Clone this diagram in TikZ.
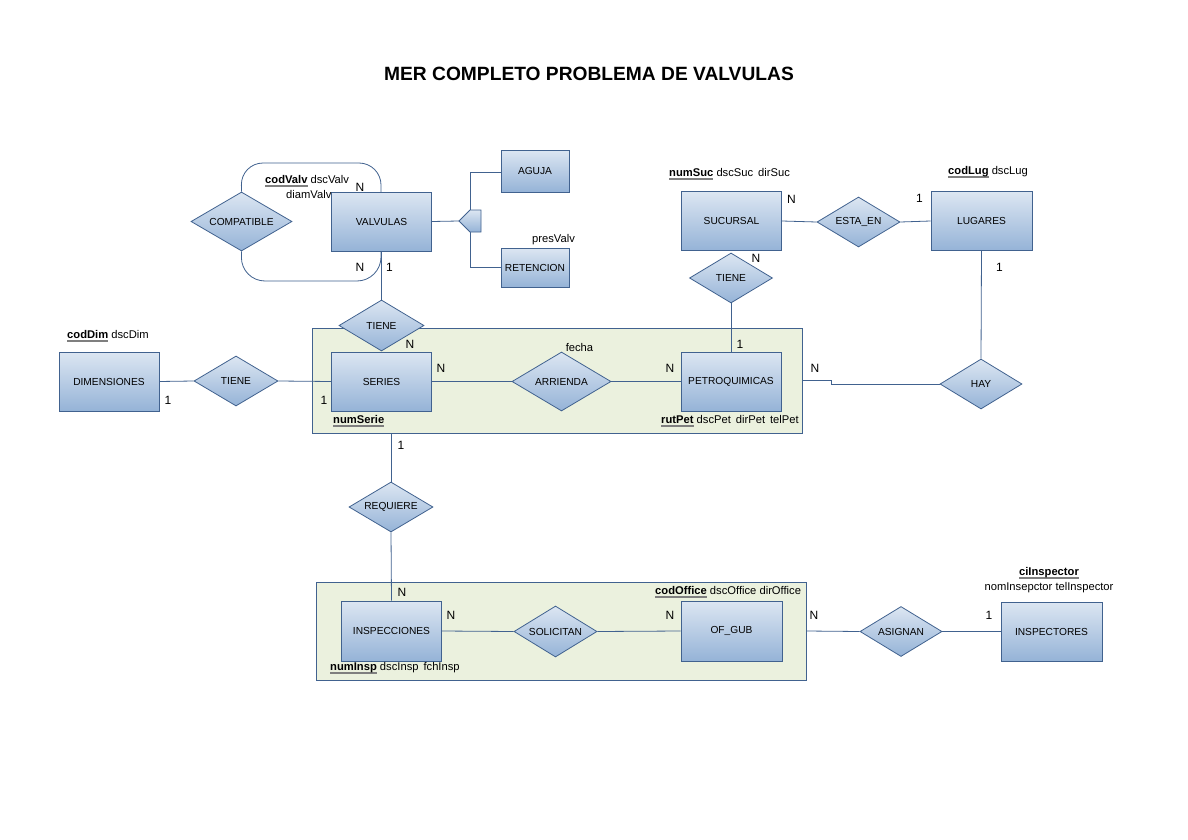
\documentclass[tikz,border=0pt]{standalone}
\usepackage{fontspec}
\setmainfont{Liberation Sans}
\usetikzlibrary{shapes.geometric}
\definecolor{ctop}{HTML}{DCE6F2}
\definecolor{cbot}{HTML}{95B3D7}
\definecolor{edgec}{HTML}{41628F}
\definecolor{bandfill}{HTML}{EBF1DE}
\definecolor{ulc}{HTML}{7F7F7F}
\newsavebox\pkbox
\newcommand\pkey[1]{\sbox\pkbox{\bfseries #1}\rlap{\color{ulc}\rule[-2.9pt]{\wd\pkbox}{1.8pt}}\usebox\pkbox}
\begin{document}
\begin{tikzpicture}[x=1pt,y=1pt,
  ent/.style={draw=edgec, line width=0.8pt, top color=ctop, bottom color=cbot, minimum width=100pt, minimum height=59pt, inner sep=0pt, font=\fontsize{10.2}{12}\selectfont},
  rel/.style={diamond, aspect=1.7, draw=edgec, line width=0.8pt, top color=ctop, bottom color=cbot, inner sep=0pt, font=\fontsize{10.2}{12}\selectfont},
  band/.style={draw=edgec, line width=0.8pt, fill=bandfill, inner sep=0pt},
  attr/.style={inner sep=0pt, font=\fontsize{11.2}{13}\selectfont},
  card/.style={inner sep=0pt, font=\fontsize{12}{14}\selectfont},
  conn/.style={draw=edgec, line width=0.8pt}]
\fill[white] (0,0) rectangle (1188,-840);
\useasboundingbox (0,0) rectangle (1188,-840);

\node[font=\fontsize{19.2}{22}\selectfont\bfseries] (title) at (589,-74) {MER COMPLETO PROBLEMA DE VALVULAS};

% aggregation bands
\node[band, minimum width=490pt, minimum height=105pt] (band1) at (557,-380.5) {};
\node[band, minimum width=490pt, minimum height=98pt] (band2) at (561,-631) {};

% entities
\node[ent] (valv) at (381.5,-221.5) {VALVULAS};
\node[ent, minimum width=68pt, minimum height=42pt] (aguja) at (535,-171) {AGUJA};
\node[ent, minimum width=68pt, minimum height=39pt] (reten) at (535,-267.5) {RETENCION};
\node[ent] (suc) at (731.5,-221) {SUCURSAL};
\node[ent, minimum width=101pt] (lug) at (981.5,-221) {LUGARES};
\node[ent] (dim) at (109,-381.5) {DIMENSIONES};
\node[ent] (series) at (381.5,-381.5) {SERIES};
\node[ent] (petro) at (731,-381.5) {PETROQUIMICAS};
\node[ent, minimum height=60pt] (insp) at (391.5,-631) {INSPECCIONES};
\node[ent, minimum width=101pt, minimum height=60pt] (ofgub) at (731.5,-631) {OF\_GUB};
\node[ent, minimum width=101pt] (inspectores) at (1051.5,-631.5) {INSPECTORES};

% relationships
\node[rel, minimum width=101pt, minimum height=59pt] (compat) at (241.5,-221.5) {COMPATIBLE};
\node[rel, minimum width=85pt, minimum height=51pt] (tiene1) at (381.5,-325.5) {TIENE};
\node[rel, minimum width=83pt, minimum height=50pt] (tiene2) at (731,-278) {TIENE};
\node[rel, minimum width=83pt, minimum height=50pt] (estaen) at (858.5,-222) {ESTA\_EN};
\node[rel, minimum width=82pt, minimum height=50pt] (hay) at (981,-384) {HAY};
\node[rel, minimum width=84pt, minimum height=50pt] (tiene3) at (236,-381) {TIENE};
\node[rel, minimum width=99pt, minimum height=59pt] (arrienda) at (561.5,-381.5) {ARRIENDA};
\node[rel, minimum width=84pt, minimum height=50pt] (requiere) at (391,-507) {REQUIERE};
\node[rel, minimum width=83pt, minimum height=51pt] (solicitan) at (555.5,-631.5) {SOLICITAN};
\node[rel, minimum width=82pt, minimum height=50pt] (asignan) at (901,-631.5) {ASIGNAN};

% ISA symbol
\coordinate (isatip) at (459,-221);
\coordinate (isatop) at (470,-172);
\coordinate (isabot) at (470,-267);
\draw[conn] (isatop) -- (isabot);
\draw[conn] (isatop) -- (aguja.west |- isatop);
\draw[conn] (isabot) -- (reten.west |- isabot);
\draw[draw=edgec, line width=0.8pt, top color=ctop, bottom color=cbot] (isatip) -- (470,-210) -- (481,-210) -- (481,-232) -- (470,-232) -- cycle;
\draw[conn] (valv.east) -- (isatip);

% recursive COMPATIBLE loops
\coordinate (vtop) at (381,-192);
\coordinate (vbot) at (381,-251);
\draw[conn, rounded corners=22pt] (compat.north) -- (241,-163) -- (381,-163) -- (vtop);
\draw[conn, rounded corners=24pt] (compat.south) -- (241,-281) -- (381,-281) -- (vbot);

% connectors
\draw[conn] (valv.south) -- (tiene1.north);
\draw[conn] (suc.east) -- (estaen.west);
\draw[conn] (estaen.east) -- (lug.west);
\draw[conn] (tiene2.south) -- (petro.north);
\draw[conn] (lug.south) -- (hay.north);
\draw[conn] (band1.east) -- (831,-380.5) -- (831,-384) -- (hay.west);
\draw[conn] (dim.east) -- (tiene3.west);
\draw[conn] (tiene3.east) -- (series.west);
\draw[conn] (series.east) -- (arrienda.west);
\draw[conn] (arrienda.east) -- (petro.west);
\draw[conn] (band1.south -| requiere.north) -- (requiere.north);
\draw[conn] (requiere.south) -- (insp.north);
\draw[conn] (insp.east) -- (solicitan.west);
\draw[conn] (solicitan.east) -- (ofgub.west);
\draw[conn] (band2.east) -- (asignan.west);
\draw[conn] (asignan.east) -- (inspectores.west);

% attributes
\node[attr, anchor=west] (avalv) at (265,-181) {\pkey{codValv} dscValv};
\node[attr, anchor=west] (adiam) at (286,-194) {diamValv};
\node[attr, anchor=west] (apres) at (532,-240) {presValv};
\node[attr, anchor=west] (asuc) at (669,-174) {\pkey{numSuc} dscSuc\, dirSuc};
\node[attr, anchor=west] (alug) at (948,-172) {\pkey{codLug} dscLug};
\node[attr, anchor=west] (adim) at (67,-336) {\pkey{codDim} dscDim};
\node[attr] (afecha) at (579.5,-347) {fecha};
\node[attr, anchor=west] (aser) at (333,-421) {\pkey{numSerie}};
\node[attr, anchor=west] (apet) at (661,-421) {\pkey{rutPet} dscPet\, dirPet\, telPet};
\node[attr, anchor=west] (aoff) at (655,-592) {\pkey{codOffice} dscOffice dirOffice};
\node[attr, anchor=west] (ains) at (330,-668) {\pkey{numInsp} dscInsp\, fchInsp};
\node[attr] (ainsp1) at (1049,-573) {\pkey{ciInspector}};
\node[attr] (ainsp2) at (1049,-587.5) {nomInsepctor telInspector};

% cardinalities
\node[card] (c1) at (360,-187) {N};
\node[card] (c2) at (360,-267) {N};
\node[card] (c3) at (389.5,-267) {1};
\node[card] (c4) at (791.5,-199) {N};
\node[card] (c5) at (919.5,-198) {1};
\node[card] (c6) at (999.5,-267) {1};
\node[card] (c7) at (756,-258) {N};
\node[card] (c8) at (410,-344) {N};
\node[card] (c9) at (441,-368) {N};
\node[card] (c10) at (324,-400) {1};
\node[card] (c11) at (670,-368) {N};
\node[card] (c12) at (740,-344) {1};
\node[card] (c13) at (815,-368) {N};
\node[card] (c14) at (168,-400) {1};
\node[card] (c15) at (401,-445) {1};
\node[card] (c16) at (402,-592) {N};
\node[card] (c17) at (451,-615) {N};
\node[card] (c18) at (670,-615) {N};
\node[card] (c19) at (814,-615) {N};
\node[card] (c20) at (989,-615) {1};
\end{tikzpicture}
\end{document}
